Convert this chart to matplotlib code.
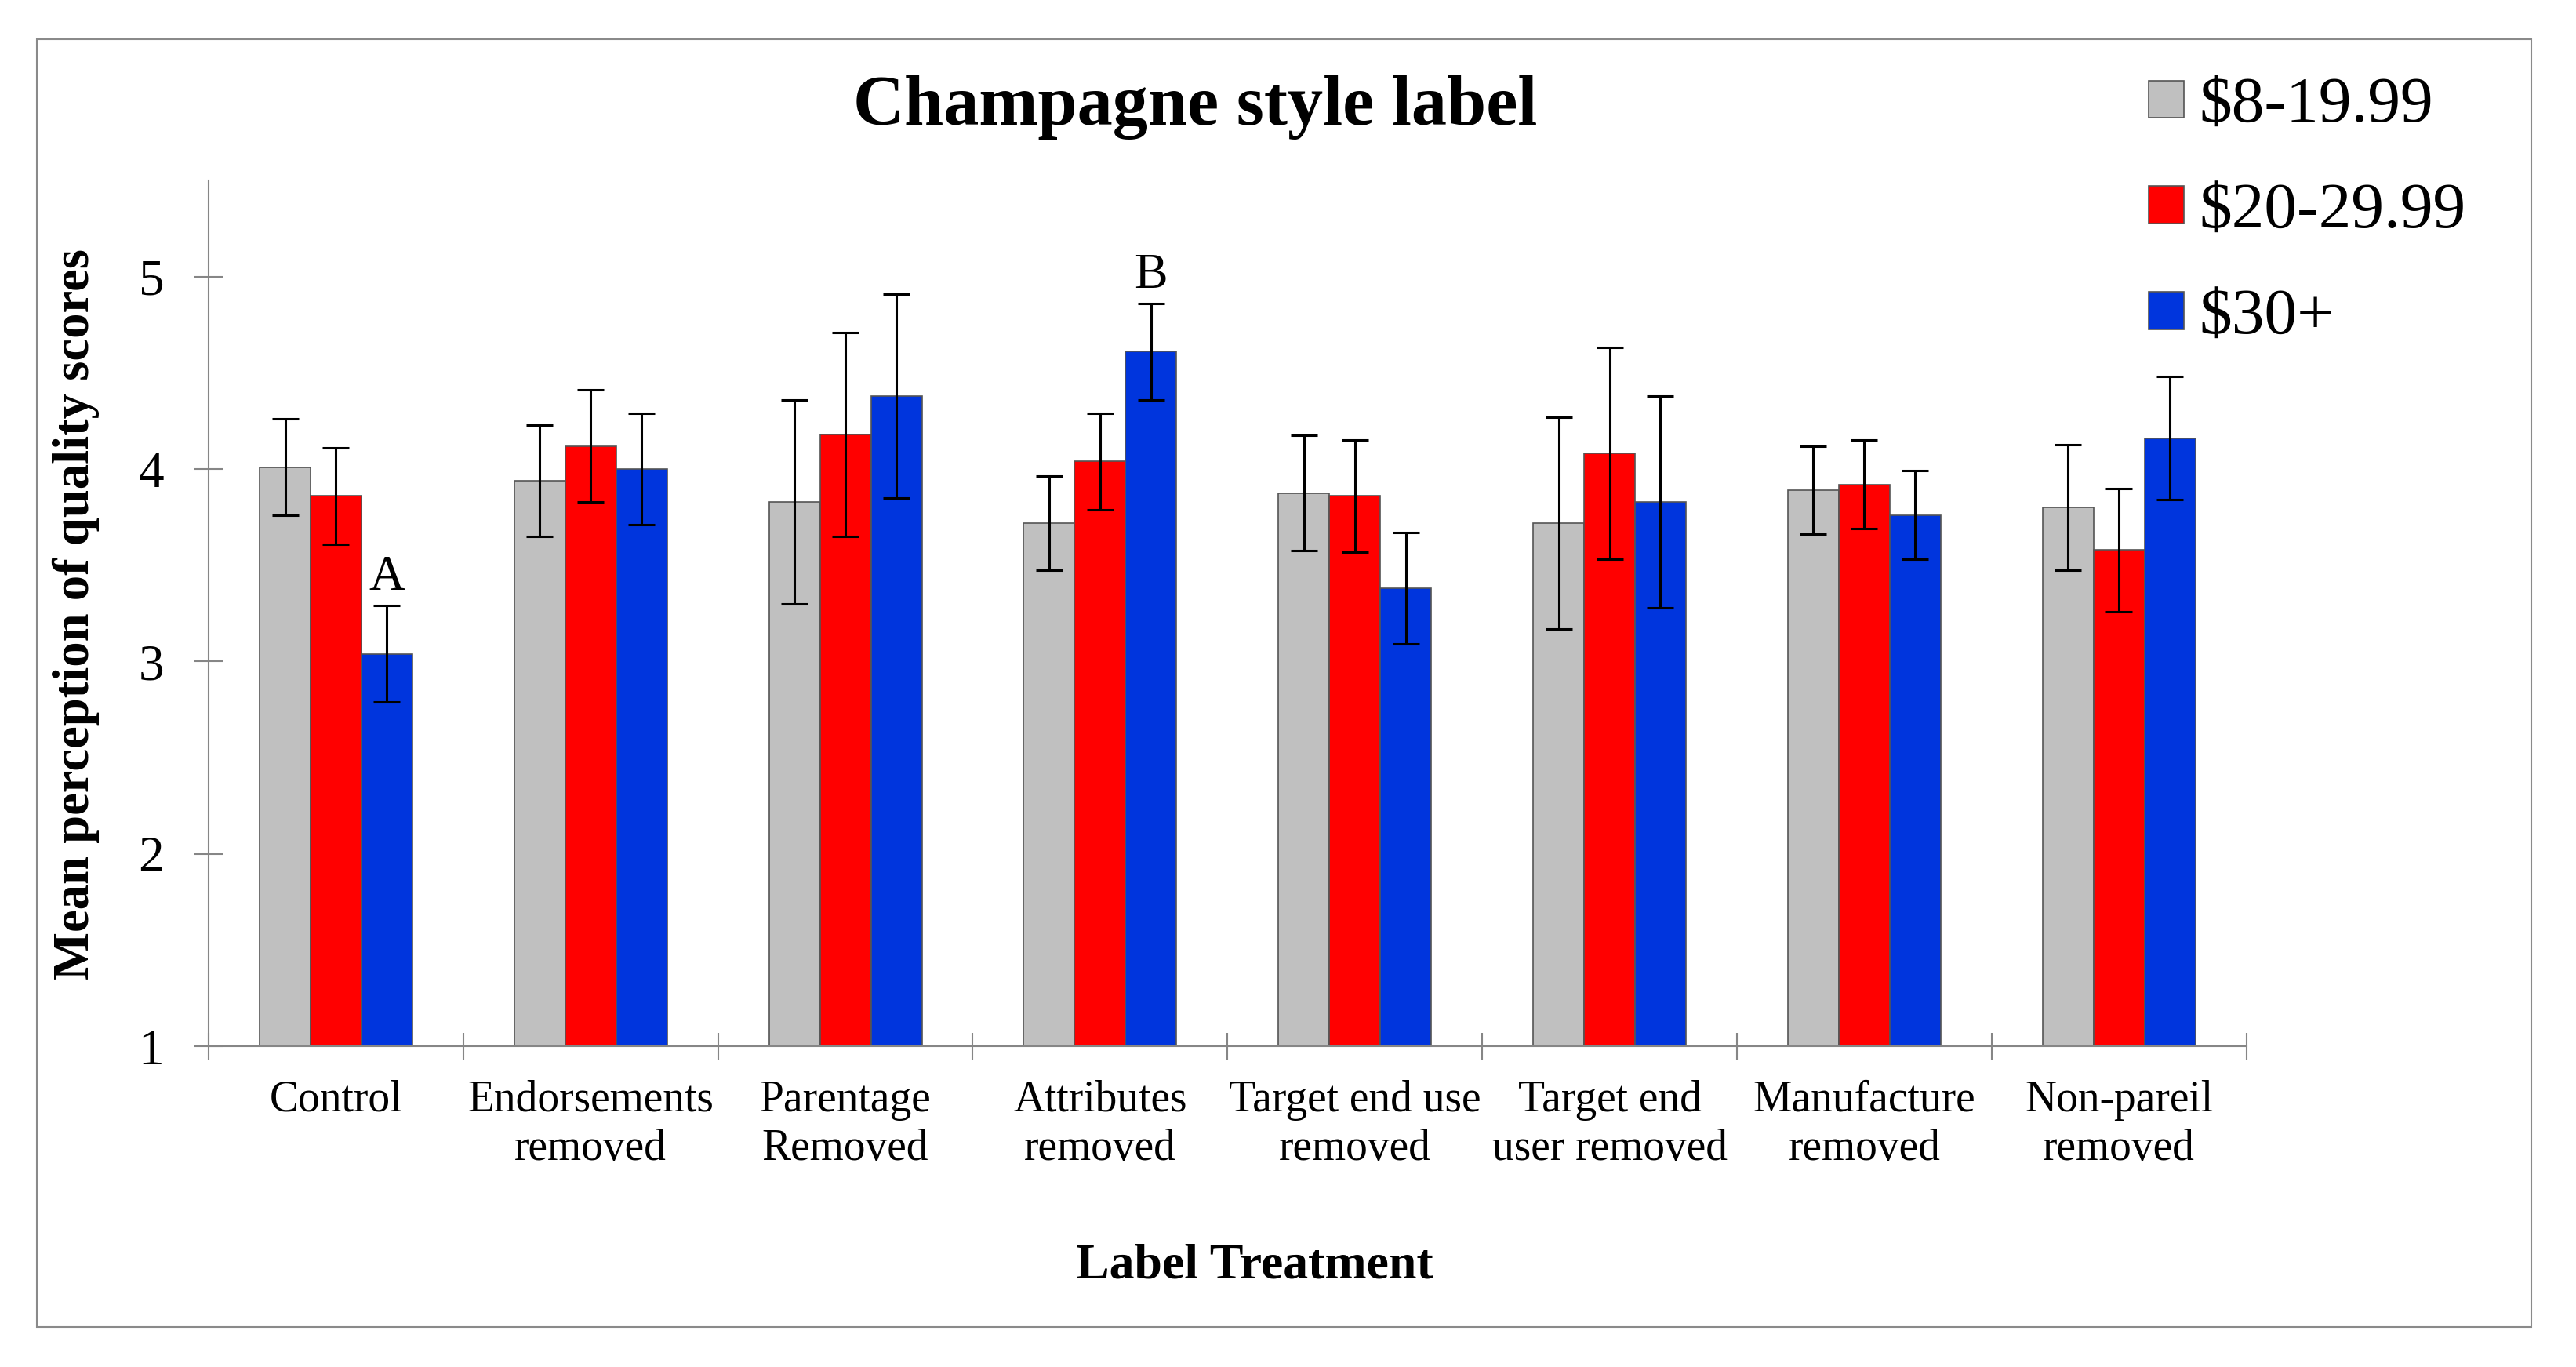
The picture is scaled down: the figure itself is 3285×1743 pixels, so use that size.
import numpy as np
import matplotlib
matplotlib.use("Agg")
import matplotlib.pyplot as plt
from matplotlib.patches import Rectangle

plt.rcParams['font.family'] = ['Liberation Serif', 'DejaVu Serif']

treatments = ['Control', 'Endorsements\nremoved', 'Parentage\nRemoved', 'Attributes\nremoved',
              'Target end use\nremoved', 'Target end\nuser removed', 'Manufacture\nremoved',
              'Non-pareil\nremoved']
price_groups = ['$8-19.99', '$20-29.99', '$30+']
colors = ['#C0C0C0', '#FF0000', '#0035DD']

low_mean = [4.01, 3.94, 3.83, 3.72, 3.875, 3.72, 3.89, 3.80]
mid_mean = [3.86, 4.12, 4.18, 4.04, 3.86, 4.08, 3.92, 3.58]
high_mean = [3.04, 4.00, 4.38, 4.61, 3.38, 3.83, 3.76, 4.16]
low_err = [0.25, 0.29, 0.53, 0.245, 0.30, 0.55, 0.23, 0.325]
mid_err = [0.25, 0.29, 0.53, 0.25, 0.29, 0.55, 0.23, 0.32]
high_err = [0.25, 0.29, 0.53, 0.25, 0.29, 0.55, 0.23, 0.32]

# significance letters: (treatment index, series index, letter)
letters = [(0, 2, 'A'), (3, 2, 'B')]

means = [low_mean, mid_mean, high_mean]
errs = [low_err, mid_err, high_err]

fig = plt.figure(figsize=(32.85, 17.43), dpi=100)
ax = fig.add_axes([0.081, 0.2347, 0.791, 0.6333])

x = np.arange(len(treatments))
w = 0.2
for i in range(3):
    ax.bar(x + (i - 1) * w, np.array(means[i]) - 1, w, bottom=1, color=colors[i],
           edgecolor='#555555', linewidth=1.2, label=price_groups[i], zorder=2)
    ax.errorbar(x + (i - 1) * w, means[i], yerr=errs[i], fmt='none', ecolor='black',
                elinewidth=2.2, capsize=12, capthick=2.2, zorder=3)

for ti, si, txt in letters:
    ax.text(ti + (si - 1) * w, means[si][ti] + errs[si][ti] + 0.025, txt,
            ha='center', va='bottom', fontsize=46)

ax.set_xlim(-0.5, 7.5)
ax.set_ylim(1, 5.5)
ax.set_yticks([1, 2, 3, 4, 5])
ax.set_xticks(np.arange(-0.5, 8, 1))
ax.set_xticklabels([])
ax.set_xticks(x, minor=True)
ax.set_xticklabels(treatments, minor=True, fontsize=40, linespacing=1.25)
ax.tick_params(axis='x', which='minor', length=0, pad=31)
ax.tick_params(axis='x', which='major', direction='inout', length=24, width=1.5, color='#868686')
ax.tick_params(axis='y', direction='inout', length=26, width=1.5, color='#868686',
               labelsize=47, pad=28)

for s in ['top', 'right']:
    ax.spines[s].set_visible(False)
for s in ['left', 'bottom']:
    ax.spines[s].set_color('#868686')
    ax.spines[s].set_linewidth(1.5)

fig.text(0.464, 0.9215, 'Champagne style label', ha='center', va='center',
         fontsize=65, fontweight='bold')
fig.text(0.0295, 0.551, 'Mean perception of quality scores', ha='center', va='center',
         rotation=90, fontsize=46.5, fontweight='bold')
fig.text(0.487, 0.0735, 'Label Treatment', ha='center', va='center',
         fontsize=46, fontweight='bold')

fig.legend(loc='upper left', bbox_to_anchor=(0.834, 0.9434), frameon=False, fontsize=60,
           handlelength=0.54, handleheight=0.5, handletextpad=0.24, labelspacing=0.71,
           borderpad=0, borderaxespad=0)

fig.patches.append(Rectangle((47 / 3285, 1 - 1692 / 1743), (3228 - 47) / 3285, (1692 - 50) / 1743,
                             transform=fig.transFigure, fill=False, edgecolor='#8A8A8A',
                             linewidth=1.5))

fig.savefig('out.png', dpi=100)
